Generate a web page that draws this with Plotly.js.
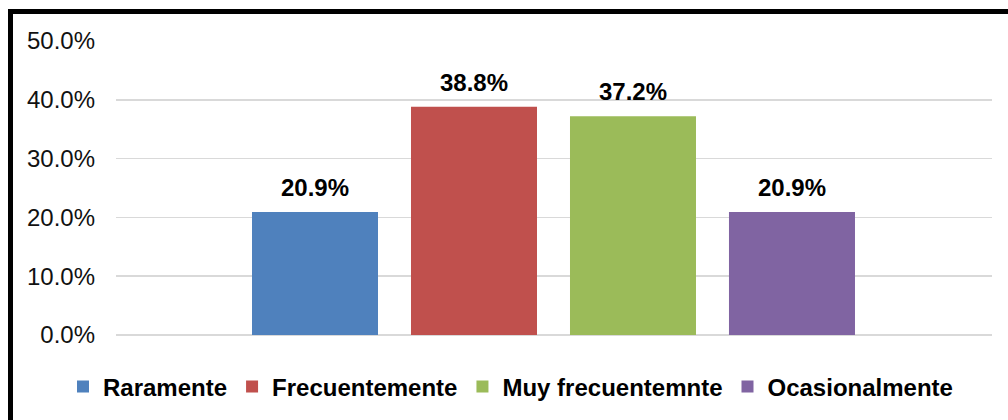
<!DOCTYPE html>
<html>
<head>
<meta charset="utf-8">
<script src="https://cdn.plot.ly/plotly-3.0.1.min.js"></script>
<style>
html, body { margin: 0; padding: 0; background: #fff; }
#chart { width: 1008px; height: 420px; }
</style>
</head>
<body>
<div id="chart"></div>
<script>
const categories = ["Raramente", "Frecuentemente", "Muy frecuentemnte", "Ocasionalmente"];
const values = [0.209, 0.388, 0.372, 0.209];
const labels = ["20.9%", "38.8%", "37.2%", "20.9%"];
const colors = ["#4F81BD", "#C0504D", "#9BBB59", "#8064A2"];
const yTicks = [0, 0.1, 0.2, 0.3, 0.4, 0.5];

const FONT = "Liberation Sans, Arial, sans-serif";

const traces = categories.map((c, i) => ({
  type: "bar",
  name: c,
  x: [c],
  y: [values[i]],
  marker: { color: colors[i] },
  hoverinfo: "skip"
}));

const annotations = categories.map((c, i) => ({
  x: c, y: values[i], xref: "x", yref: "y",
  text: labels[i], showarrow: false,
  yanchor: "bottom", yshift: 9,
  font: { family: FONT, size: 24, color: "#000", weight: "bold" }
}));

const L = 116, T = 41, W = 876, H = 295;
const px2x = p => (p - L) / W;
const py2y = p => (T + H - p) / H;

const layout = {
  width: 1008, height: 420,
  margin: { l: L, r: 1008 - L - W, t: T, b: 420 - T - H, pad: 0 },
  paper_bgcolor: "#fff", plot_bgcolor: "#fff",
  barmode: "overlay",
  bargap: 0.2075,
  showlegend: true,
  font: { family: FONT, color: "#000" },
  xaxis: {
    type: "category",
    range: [-1.2516, 4.258],
    showticklabels: false, showgrid: false, zeroline: false,
    showline: false, ticks: "", fixedrange: true
  },
  yaxis: {
    range: [0, 0.5],
    tickvals: yTicks, tickformat: ".1%",
    tickfont: { family: FONT, size: 24, color: "#111" },
    showgrid: true, gridcolor: "#d9d9d9", gridwidth: 1.5,
    zeroline: true, zerolinecolor: "#d9d9d9", zerolinewidth: 1.5,
    showline: false, ticks: "", ticklabelstandoff: 20, fixedrange: true
  },
  legend: {
    orientation: "h",
    x: px2x(63), xanchor: "left",
    y: py2y(387), yanchor: "middle",
    font: { family: FONT, size: 24, color: "#000", weight: "bold" },
    bgcolor: "rgba(0,0,0,0)", traceorder: "normal"
  },
  annotations: annotations,
  shapes: [{
    type: "rect", xref: "paper", yref: "paper",
    x0: px2x(10.5), x1: px2x(1030),
    y0: py2y(440), y1: py2y(11.5),
    line: { color: "#000", width: 5 },
    fillcolor: "rgba(0,0,0,0)", layer: "above"
  }]
};

Plotly.newPlot("chart", traces, layout, { displayModeBar: false, staticPlot: true });
</script>
</body>
</html>
